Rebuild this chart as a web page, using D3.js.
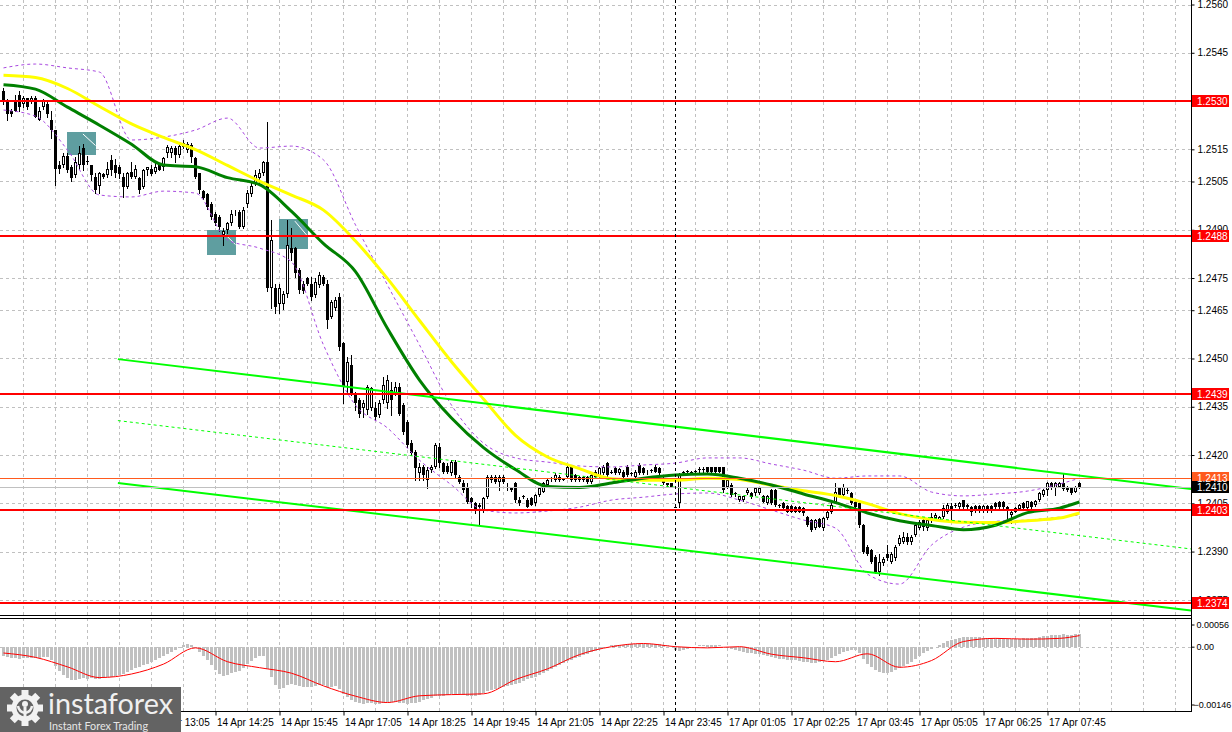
<!DOCTYPE html>
<html>
<head>
<meta charset="utf-8">
<script src="https://cdn.jsdelivr.net/npm/d3@7"></script>
<style>
  body { margin: 0; background: #fff; }
  svg { display: block; }
</style>
</head>
<body>
<script>
/* DATA */
// GBP/USD M5 bars, 14 Apr 10:00 ... 17 Apr 08:25 : [open, high, low, close]
var candles = [
 [1.25330,1.25340,1.25290,1.25300],[1.25300,1.25305,1.25240,1.25260],[1.25270,1.25275,1.25255,1.25260],[1.25300,1.25320,1.25270,1.25270],[1.25320,1.25330,1.25270,1.25280],
 [1.25290,1.25315,1.25280,1.25310],[1.25310,1.25310,1.25275,1.25280],[1.25300,1.25315,1.25295,1.25310],[1.25310,1.25315,1.25250,1.25250],[1.25240,1.25280,1.25240,1.25270],
 [1.25280,1.25305,1.25275,1.25300],[1.25290,1.25300,1.25250,1.25260],[1.25240,1.25270,1.25185,1.25210],[1.25210,1.25210,1.25040,1.25090],[1.25100,1.25115,1.25075,1.25090],
 [1.25100,1.25140,1.25095,1.25130],[1.25130,1.25140,1.25080,1.25085],[1.25095,1.25100,1.25050,1.25060],[1.25070,1.25125,1.25065,1.25110],[1.25100,1.25160,1.25090,1.25140],
 [1.25155,1.25168,1.25086,1.25100],[1.25115,1.25130,1.25105,1.25110],[1.25100,1.25100,1.25055,1.25070],[1.25065,1.25075,1.25013,1.25025],[1.25035,1.25080,1.25013,1.25075],
 [1.25072,1.25075,1.25060,1.25063],[1.25070,1.25110,1.25065,1.25090],[1.25117,1.25132,1.25070,1.25086],[1.25100,1.25120,1.25065,1.25075],[1.25095,1.25100,1.25060,1.25073],
 [1.25065,1.25075,1.25003,1.25034],[1.25034,1.25080,1.25029,1.25075],[1.25080,1.25112,1.25060,1.25063],[1.25063,1.25100,1.25060,1.25090],[1.25060,1.25065,1.25013,1.25023],
 [1.25034,1.25090,1.25029,1.25086],[1.25086,1.25095,1.25070,1.25095],[1.25090,1.25100,1.25070,1.25073],[1.25080,1.25112,1.25075,1.25096],[1.25100,1.25105,1.25085,1.25086],
 [1.25096,1.25127,1.25086,1.25122],[1.25137,1.25163,1.25127,1.25156],[1.25137,1.25160,1.25127,1.25153],[1.25153,1.25160,1.25112,1.25132],[1.25132,1.25168,1.25127,1.25160],
 [1.25171,1.25179,1.25153,1.25158],[1.25148,1.25174,1.25143,1.25166],[1.25163,1.25170,1.25112,1.25127],[1.25122,1.25127,1.25060,1.25063],[1.25075,1.25075,1.25013,1.25023],
 [1.25020,1.25025,1.24995,1.25000],[1.25010,1.25015,1.24965,1.24970],[1.24980,1.24985,1.24935,1.24940],[1.24950,1.24955,1.24915,1.24920],[1.24940,1.24945,1.24895,1.24910],
 [1.24885,1.24905,1.24852,1.24895],[1.24900,1.24925,1.24890,1.24920],[1.24920,1.24960,1.24915,1.24950],[1.24950,1.24960,1.24945,1.24952],[1.24955,1.24960,1.24905,1.24910],
 [1.24910,1.24970,1.24905,1.24960],[1.24980,1.25025,1.24970,1.25015],[1.25010,1.25045,1.25005,1.25035],[1.25045,1.25086,1.25040,1.25070],[1.25060,1.25090,1.25045,1.25075],
 [1.25075,1.25115,1.25070,1.25110],[1.25110,1.25236,1.24710,1.24718],[1.24718,1.24930,1.24656,1.24868],[1.24720,1.24730,1.24640,1.24660],[1.24670,1.24730,1.24640,1.24720],
 [1.24670,1.24710,1.24655,1.24700],[1.24700,1.24930,1.24692,1.24852],[1.24842,1.24904,1.24806,1.24827],[1.24842,1.24845,1.24754,1.24765],[1.24775,1.24780,1.24705,1.24713],
 [1.24733,1.24740,1.24705,1.24711],[1.24749,1.24754,1.24728,1.24733],[1.24733,1.24754,1.24682,1.24692],[1.24697,1.24749,1.24692,1.24739],[1.24728,1.24770,1.24723,1.24759],
 [1.24754,1.24760,1.24728,1.24733],[1.24733,1.24744,1.24594,1.24620],[1.24630,1.24682,1.24625,1.24676],[1.24656,1.24692,1.24651,1.24682],[1.24692,1.24702,1.24526,1.24537],
 [1.24547,1.24552,1.24361,1.24412],[1.24428,1.24505,1.24392,1.24490],[1.24480,1.24511,1.24386,1.24392],[1.24392,1.24397,1.24340,1.24361],[1.24371,1.24376,1.24319,1.24329],
 [1.24345,1.24371,1.24319,1.24361],[1.24340,1.24417,1.24329,1.24412],[1.24345,1.24412,1.24340,1.24407],[1.24345,1.24366,1.24309,1.24319],[1.24324,1.24371,1.24319,1.24361],
 [1.24371,1.24443,1.24361,1.24417],[1.24361,1.24448,1.24345,1.24433],[1.24402,1.24428,1.24324,1.24371],[1.24392,1.24428,1.24386,1.24412],[1.24412,1.24423,1.24324,1.24329],
 [1.24355,1.24361,1.24265,1.24273],[1.24304,1.24310,1.24226,1.24231],[1.24236,1.24247,1.24200,1.24205],[1.24210,1.24216,1.24122,1.24159],[1.24143,1.24174,1.24122,1.24164],
 [1.24164,1.24169,1.24122,1.24138],[1.24122,1.24164,1.24096,1.24153],[1.24153,1.24169,1.24148,1.24164],[1.24164,1.24236,1.24159,1.24231],[1.24226,1.24236,1.24164,1.24174],
 [1.24174,1.24179,1.24143,1.24148],[1.24166,1.24174,1.24143,1.24148],[1.24143,1.24184,1.24138,1.24179],[1.24179,1.24184,1.24133,1.24138],[1.24133,1.24138,1.24112,1.24117],
 [1.24112,1.24122,1.24086,1.24091],[1.24102,1.24112,1.24050,1.24055],[1.24065,1.24070,1.24039,1.24055],[1.24050,1.24055,1.24019,1.24029],[1.24045,1.24050,1.23982,1.24039],
 [1.24029,1.24070,1.24024,1.24065],[1.24070,1.24138,1.24065,1.24133],[1.24122,1.24138,1.24117,1.24133],[1.24133,1.24138,1.24112,1.24117],[1.24117,1.24138,1.24091,1.24133],
 [1.24133,1.24138,1.24112,1.24117],[1.24102,1.24112,1.24091,1.24100],[1.24096,1.24100,1.24088,1.24091],[1.24112,1.24117,1.24055,1.24060],[1.24060,1.24070,1.24045,1.24050],
 [1.24074,1.24076,1.24068,1.24070],[1.24060,1.24065,1.24040,1.24040],[1.24065,1.24070,1.24045,1.24045],[1.24050,1.24080,1.24045,1.24076],[1.24076,1.24102,1.24074,1.24096],
 [1.24086,1.24117,1.24084,1.24112],[1.24107,1.24127,1.24104,1.24122],[1.24122,1.24133,1.24120,1.24126],[1.24122,1.24143,1.24120,1.24138],[1.24133,1.24138,1.24120,1.24122],
 [1.24127,1.24130,1.24122,1.24126],[1.24133,1.24169,1.24130,1.24164],[1.24164,1.24166,1.24120,1.24122],[1.24138,1.24140,1.24120,1.24122],[1.24133,1.24136,1.24120,1.24122],
 [1.24133,1.24136,1.24120,1.24122],[1.24133,1.24136,1.24114,1.24117],[1.24117,1.24143,1.24114,1.24138],[1.24148,1.24153,1.24130,1.24133],[1.24133,1.24164,1.24130,1.24159],
 [1.24143,1.24169,1.24140,1.24164],[1.24174,1.24179,1.24133,1.24138],[1.24148,1.24153,1.24143,1.24146],[1.24159,1.24164,1.24140,1.24143],[1.24143,1.24161,1.24140,1.24156],
 [1.24148,1.24153,1.24130,1.24133],[1.24164,1.24169,1.24135,1.24138],[1.24143,1.24148,1.24138,1.24141],[1.24133,1.24153,1.24130,1.24148],[1.24169,1.24174,1.24140,1.24143],
 [1.24159,1.24164,1.24140,1.24143],[1.24143,1.24153,1.24140,1.24148],[1.24153,1.24156,1.24148,1.24151],[1.24164,1.24169,1.24146,1.24148],[1.24159,1.24164,1.24140,1.24143],
 [1.24127,1.24133,1.24110,1.24112],[1.24107,1.24114,1.24102,1.24112],[1.24112,1.24114,1.24100,1.24102],[1.24040,1.24042,1.24037,1.24039],[1.24050,1.24143,1.24040,1.24138],
 [1.24148,1.24150,1.24145,1.24146],[1.24150,1.24153,1.24143,1.24148],[1.24148,1.24150,1.24145,1.24146],[1.24150,1.24153,1.24148,1.24151],[1.24158,1.24164,1.24148,1.24156],
 [1.24158,1.24164,1.24148,1.24156],[1.24164,1.24164,1.24148,1.24148],[1.24164,1.24164,1.24148,1.24148],[1.24164,1.24164,1.24148,1.24148],[1.24164,1.24164,1.24148,1.24148],
 [1.24162,1.24164,1.24086,1.24091],[1.24102,1.24127,1.24096,1.24122],[1.24107,1.24112,1.24072,1.24076],[1.24081,1.24084,1.24074,1.24078],[1.24060,1.24074,1.24058,1.24072],
 [1.24060,1.24074,1.24058,1.24072],[1.24081,1.24099,1.24080,1.24091],[1.24081,1.24084,1.24068,1.24070],[1.24081,1.24102,1.24076,1.24096],[1.24081,1.24100,1.24078,1.24096],
 [1.24072,1.24076,1.24053,1.24055],[1.24050,1.24076,1.24048,1.24072],[1.24091,1.24094,1.24048,1.24050],[1.24091,1.24094,1.24042,1.24045],[1.24045,1.24048,1.24039,1.24042],
 [1.24050,1.24053,1.24032,1.24034],[1.24042,1.24045,1.24022,1.24024],[1.24042,1.24045,1.24022,1.24024],[1.24039,1.24042,1.24022,1.24024],[1.24039,1.24042,1.24022,1.24024],
 [1.24034,1.24039,1.24013,1.24019],[1.24008,1.24011,1.23980,1.23982],[1.23998,1.24001,1.23964,1.23967],[1.23972,1.24000,1.23970,1.23998],[1.24001,1.24003,1.23975,1.23977],
 [1.23972,1.24008,1.23967,1.24003],[1.24003,1.24027,1.24000,1.24024],[1.24024,1.24050,1.24019,1.24045],[1.24055,1.24112,1.24050,1.24086],[1.24096,1.24102,1.24072,1.24076],
 [1.24076,1.24110,1.24072,1.24102],[1.24091,1.24099,1.24083,1.24090],[1.24081,1.24084,1.24048,1.24050],[1.24055,1.24058,1.24036,1.24039],[1.24050,1.24053,1.23977,1.23982],
 [1.23982,1.23985,1.23897,1.23900],[1.23915,1.23920,1.23889,1.23894],[1.23905,1.23908,1.23865,1.23868],[1.23884,1.23889,1.23832,1.23837],[1.23837,1.23894,1.23827,1.23868],
 [1.23863,1.23884,1.23858,1.23878],[1.23894,1.23920,1.23874,1.23879],[1.23868,1.23900,1.23865,1.23894],[1.23879,1.23920,1.23874,1.23915],[1.23925,1.23952,1.23920,1.23941],
 [1.23930,1.23962,1.23927,1.23946],[1.23946,1.23957,1.23925,1.23931],[1.23931,1.23952,1.23925,1.23946],[1.23952,1.23988,1.23947,1.23982],[1.23972,1.23998,1.23970,1.23993],
 [1.23998,1.24003,1.23967,1.23977],[1.23972,1.24003,1.23967,1.23998],[1.23998,1.24019,1.23993,1.24008],[1.24005,1.24019,1.24001,1.24013],[1.23998,1.24010,1.23996,1.24008],
 [1.24008,1.24045,1.24003,1.24034],[1.24024,1.24052,1.24019,1.24045],[1.24042,1.24050,1.23998,1.24027],[1.24046,1.24050,1.24040,1.24044],[1.24039,1.24055,1.24036,1.24052],
 [1.24060,1.24060,1.24034,1.24039],[1.24045,1.24048,1.24036,1.24039],[1.24039,1.24042,1.24013,1.24024],[1.24042,1.24045,1.24024,1.24027],[1.24042,1.24045,1.24024,1.24027],
 [1.24027,1.24045,1.24024,1.24042],[1.24042,1.24045,1.24024,1.24027],[1.24042,1.24045,1.24024,1.24027],[1.24052,1.24055,1.24036,1.24039],[1.24055,1.24058,1.24036,1.24039],
 [1.24055,1.24058,1.24036,1.24039],[1.24039,1.24042,1.24003,1.24029],[1.24013,1.24027,1.23988,1.24024],[1.24024,1.24037,1.24022,1.24034],[1.24032,1.24048,1.24030,1.24045],
 [1.24052,1.24055,1.24032,1.24034],[1.24036,1.24058,1.24034,1.24056],[1.24055,1.24058,1.24036,1.24039],[1.24045,1.24060,1.24043,1.24057],[1.24060,1.24084,1.24058,1.24081],
 [1.24076,1.24094,1.24074,1.24091],[1.24091,1.24117,1.24076,1.24112],[1.24112,1.24115,1.24094,1.24096],[1.24096,1.24117,1.24076,1.24112],[1.24102,1.24115,1.24100,1.24112],
 [1.24114,1.24141,1.24091,1.24094],[1.24102,1.24105,1.24089,1.24091],[1.24099,1.24102,1.24079,1.24081],[1.24086,1.24105,1.24084,1.24102],[1.24112,1.24115,1.24098,1.24100]
];

// indicator readings, taken every 8th bar
var maBars    = [0,8,16,24,32,40,48,56,64,72,80,88,96,104,112,120,128,136,144,152,160,168,176,184,192,200,208,216,224,232,240,248,256,264,269];
var slowMA    = [1.25380,1.25373,1.25339,1.25283,1.25229,1.25187,1.25149,1.25100,1.25051,1.25008,1.24961,1.24865,1.24748,1.24618,1.24490,1.24374,1.24261,1.24194,1.24158,1.24126,1.24122,1.24122,1.24128,1.24124,1.24106,1.24089,1.24074,1.24049,1.24018,1.24000,1.23991,1.23990,1.23996,1.24004,1.24020];
var fastMA    = [1.25351,1.25337,1.25281,1.25225,1.25166,1.25101,1.25096,1.25062,1.25040,1.24957,1.24857,1.24770,1.24593,1.24433,1.24315,1.24223,1.24155,1.24102,1.24099,1.24113,1.24128,1.24138,1.24141,1.24128,1.24107,1.24079,1.24052,1.24020,1.23996,1.23981,1.23968,1.23982,1.24021,1.24035,1.24054];
var bandUpper = [1.25403,1.25415,1.25403,1.25390,1.25179,1.25188,1.25210,1.25247,1.25154,1.25160,1.25117,1.24915,1.24728,1.24542,1.24355,1.24237,1.24191,1.24178,1.24166,1.24163,1.24169,1.24175,1.24191,1.24191,1.24172,1.24153,1.24128,1.24135,1.24135,1.24085,1.24073,1.24079,1.24088,1.24110,1.24128];
var bandLower = [1.25272,1.25253,1.25148,1.25008,1.25002,1.25020,1.25014,1.24868,1.24843,1.24800,1.24542,1.24355,1.24284,1.24184,1.24107,1.24029,1.24020,1.24026,1.24038,1.24060,1.24069,1.24079,1.24082,1.24060,1.24029,1.23998,1.23973,1.23830,1.23799,1.23920,1.23976,1.23994,1.23998,1.24007,1.24014];

// MACD, in units of 0.00001
var macdHist = [
 -23,-25,-28,-28,-30,-28,-28,-28,-28,-28, -25,-25,-33,-48,-61,-71,-78,-83,-83,-81,
 -78,-81,-78,-81,-81,-78,-76,-76,-73,-71, -68,-63,-58,-53,-51,-45,-43,-38,-33,-28,
 -23,-18,-13,-8,-3,5,8,5,-3,-13, -23,-33,-45,-58,-68,-73,-71,-66,-63,-61,
 -53,-43,-35,-28,-23,-23,-56,-76,-96,-106, -104,-96,-93,-96,-98,-101,-101,-101,-98,-96,
 -96,-101,-101,-98,-106,-119,-126,-134,-139,-141, -144,-141,-141,-144,-144,-141,-139,-139,-139,-141,
 -141,-144,-141,-141,-139,-134,-131,-129,-124,-124, -124,-121,-119,-119,-119,-121,-124,-124,-124,-121,
 -116,-111,-109,-106,-104,-101,-98,-96,-93,-91, -86,-81,-78,-76,-71,-66,-61,-56,-51,-45,
 -40,-35,-33,-28,-25,-20,-18,-13,-10,-5, -3,0,3,5,5,5,8,8,8,8,
 8,8,8,8,8,5,3,0,-8,-10, -8,-5,-3,0,3,3,5,5,5,3,
 0,-3,-5,-8,-10,-13,-15,-15,-18,-18, -20,-23,-25,-28,-30,-30,-33,-33,-33,-35,
 -38,-38,-40,-40,-38,-35,-33,-28,-23,-18, -13,-10,-8,-8,-15,-30,-43,-51,-58,-63,
 -66,-66,-63,-58,-53,-48,-43,-38,-30,-23, -15,-10,-5,0,5,10,15,18,20,23,
 25,25,25,25,25,23,23,23,23,23, 20,20,20,20,20,23,23,23,23,25,
 28,28,30,30,30,33,30,30,33,33
];
var macdSignal = [-16,-27,-51,-78,-69,-44,-3,-38,-53,-67,-99,-125,-141,-124,-121,-119,-83,-56,-20,0,8,0,-3,0,-19,-28,-38,-18,-52,-35,13,21,19,21,28];
var macdTicks = [56, 0, -146];

// drawn objects
var redLevels = [1.2530, 1.2488, 1.2439, 1.2403, 1.2374];
var askPrice = 1.2413, bidPrice = 1.2410;
var channelBars  = [28.6, 297];
var channelUpper = [1.24498, 1.24094];
var channelMid   = [1.24307, 1.23908];
var channelLower = [1.24113, 1.23717];
var boxFrom   = [16, 51, 69];
var boxTo     = [23, 58, 76];
var boxTop    = [1.25204, 1.24899, 1.24933];
var boxBottom = [1.25132, 1.24821, 1.24840];

// axes
var priceTicks = [1.2560,1.2545,1.2530,1.2515,1.2505,1.2490,1.2475,1.2465,1.2450,1.2435,1.2420,1.2405,1.2390,1.2375];
var timeBars   = [37,53,69,85,101,117,133,149,165,181,197,213,229,245,261];
var timeLabels = ["14 Apr 13:05","14 Apr 14:25","14 Apr 15:45","14 Apr 17:05","14 Apr 18:25",
                  "14 Apr 19:45","14 Apr 21:05","14 Apr 22:25","14 Apr 23:45","17 Apr 01:05","17 Apr 02:25","17 Apr 03:45",
                  "17 Apr 05:05","17 Apr 06:25","17 Apr 07:45"];
var sessionBreak = 168; // first bar of 17 Apr

/* SETUP */
var width = 1232, height = 732;
var plotRight = 1191;
var mainBottom = 615, macdTop = 619, axisY = 711.5;
var font = "'Liberation Sans', Arial, sans-serif";

var svg = d3.select("body").append("svg")
  .attr("width", width)
  .attr("height", height)
  .style("font-family", font);

var x = d3.scaleLinear().domain([0, 269]).range([3.5, 1079.5]);       // bar index -> centre pixel
var y = d3.scaleLinear().domain([1.23706, 1.25614]).range([614, 0]);  // price
var yM = d3.scaleLinear().domain([-146, 56]).range([704.5, 624.5]);   // MACD

var defs = svg.append("defs");
defs.append("clipPath").attr("id", "clipMain").append("rect")
  .attr("x", 0).attr("y", 0).attr("width", plotRight).attr("height", mainBottom);
defs.append("clipPath").attr("id", "clipMacd").append("rect")
  .attr("x", 0).attr("y", macdTop).attr("width", plotRight).attr("height", axisY - macdTop);

function px(v) { return Math.round(v) + 0.5; }

/* GRID */
var grid = svg.append("g")
  .attr("stroke", "#c0c0c0")
  .attr("stroke-dasharray", "3,3")
  .attr("shape-rendering", "crispEdges");

grid.selectAll("line.v")
  .data(d3.range(5, 297, 8))
  .join("line")
  .attr("x1", d => x(d)).attr("x2", d => x(d))
  .attr("y1", 0).attr("y2", axisY);

grid.selectAll("line.h")
  .data(priceTicks)
  .join("line")
  .attr("x1", 0).attr("x2", plotRight)
  .attr("y1", d => px(y(d))).attr("y2", d => px(y(d)));

grid.append("line")
  .attr("x1", 0).attr("x2", plotRight)
  .attr("y1", px(yM(0))).attr("y2", px(yM(0)));

/* MAIN PANEL */
var main = svg.append("g").attr("clip-path", "url(#clipMain)");

// signal boxes sit behind the bars
main.selectAll("rect.box")
  .data(boxFrom)
  .join("rect")
  .attr("x", (d, k) => x(d) - 0.5)
  .attr("y", (d, k) => Math.round(y(boxTop[k])))
  .attr("width", (d, k) => x(boxTo[k]) - x(d) + 1)
  .attr("height", (d, k) => Math.round(y(boxBottom[k])) - Math.round(y(boxTop[k])))
  .attr("fill", "#5f9ea0");

main.selectAll("line.boxmark")
  .data(boxFrom)
  .join("line")
  .attr("x1", (d, k) => x(d) + (x(boxTo[k]) - x(d)) * 0.55)
  .attr("y1", (d, k) => y(boxTop[k]) + 2)
  .attr("x2", (d, k) => x(boxTo[k]))
  .attr("y2", (d, k) => (y(boxTop[k]) + y(boxBottom[k])) / 2 + 2)
  .attr("stroke", "#ffffff")
  .attr("stroke-width", 1);

// candles
var bars = main.append("g").attr("shape-rendering", "crispEdges");

bars.selectAll("line")
  .data(candles)
  .join("line")
  .attr("x1", (d, i) => x(i)).attr("x2", (d, i) => x(i))
  .attr("y1", d => Math.round(y(d[1])))
  .attr("y2", d => Math.round(y(d[2])) + 1)
  .attr("stroke", "#000");

bars.selectAll("rect")
  .data(candles)
  .join("rect")
  .each(function(d, i) {
    var yo = Math.round(y(d[0])), yc = Math.round(y(d[3]));
    var r = d3.select(this);
    if (yc < yo) {          // up bar: hollow
      r.attr("x", x(i) - 1).attr("width", 2)
       .attr("y", yc + 0.5).attr("height", Math.max(yo - yc - 1, 0))
       .attr("fill", "#fff").attr("stroke", "#000");
    } else {                // down bar or doji: solid
      r.attr("x", x(i) - 1.5).attr("width", 3)
       .attr("y", yo).attr("height", Math.max(yc - yo, 1))
       .attr("fill", "#000");
    }
  });

// bollinger-style envelope
var band = d3.line()
  .x(d => x(d[0]))
  .y(d => y(d[1]))
  .curve(d3.curveMonotoneX);

[bandUpper, bandLower].forEach(function(arr) {
  main.append("path")
    .datum(d3.zip(maBars, arr))
    .attr("d", band)
    .attr("fill", "none")
    .attr("stroke", "#a848e0")
    .attr("stroke-width", 1)
    .attr("stroke-dasharray", "3,3");
});

main.append("path")
  .datum(d3.zip(maBars, slowMA))
  .attr("d", band)
  .attr("fill", "none")
  .attr("stroke", "#ffff00")
  .attr("stroke-width", 3);

main.append("path")
  .datum(d3.zip(maBars, fastMA))
  .attr("d", band)
  .attr("fill", "none")
  .attr("stroke", "#008000")
  .attr("stroke-width", 3);

// channel
var straight = d3.line().x(d => x(d[0])).y(d => y(d[1]));
main.append("path").datum(d3.zip(channelBars, channelUpper)).attr("d", straight)
  .attr("stroke", "#00ff00").attr("stroke-width", 2).attr("fill", "none");
main.append("path").datum(d3.zip(channelBars, channelLower)).attr("d", straight)
  .attr("stroke", "#00ff00").attr("stroke-width", 2).attr("fill", "none");
main.append("path").datum(d3.zip(channelBars, channelMid)).attr("d", straight)
  .attr("stroke", "#00ff00").attr("stroke-width", 1).attr("stroke-dasharray", "3,3").attr("fill", "none");

// levels
var levels = main.append("g").attr("shape-rendering", "crispEdges");
levels.append("line")
  .attr("x1", 0).attr("x2", plotRight)
  .attr("y1", px(y(bidPrice))).attr("y2", px(y(bidPrice)))
  .attr("stroke", "#c0c0c0");
levels.append("line")
  .attr("x1", 0).attr("x2", plotRight)
  .attr("y1", px(y(askPrice))).attr("y2", px(y(askPrice)))
  .attr("stroke", "#ff5a1e");
levels.selectAll("line.red")
  .data(redLevels)
  .join("line")
  .attr("x1", 0).attr("x2", plotRight)
  .attr("y1", d => Math.round(y(d))).attr("y2", d => Math.round(y(d)))
  .attr("stroke", "#ff0000")
  .attr("stroke-width", 2);

/* MACD PANEL */
var macd = svg.append("g").attr("clip-path", "url(#clipMacd)");

macd.append("g").attr("shape-rendering", "crispEdges")
  .selectAll("rect")
  .data(macdHist)
  .join("rect")
  .attr("x", (d, i) => x(i) - 1.5)
  .attr("width", 3)
  .attr("y", d => Math.round(Math.min(yM(d), yM(0))))
  .attr("height", d => Math.max(Math.round(Math.abs(yM(d) - yM(0))), d === 0 ? 0 : 1))
  .attr("fill", "#c0c0c0");

macd.append("path")
  .datum(d3.zip(maBars, macdSignal))
  .attr("d", d3.line().x(d => x(d[0])).y(d => yM(d[1])).curve(d3.curveMonotoneX))
  .attr("fill", "none")
  .attr("stroke", "#ff0000")
  .attr("stroke-width", 1);

/* FRAME */
var frame = svg.append("g").attr("stroke", "#000").attr("shape-rendering", "crispEdges");
frame.append("line").attr("x1", 0).attr("x2", plotRight + 0.5).attr("y1", mainBottom + 0.5).attr("y2", mainBottom + 0.5);
frame.append("line").attr("x1", 0).attr("x2", plotRight + 0.5).attr("y1", macdTop - 0.5).attr("y2", macdTop - 0.5);
frame.append("line").attr("x1", 0).attr("x2", plotRight + 0.5).attr("y1", axisY).attr("y2", axisY);
frame.append("line").attr("x1", plotRight + 0.5).attr("x2", plotRight + 0.5).attr("y1", 0).attr("y2", axisY);

// start-of-day separator
svg.append("line")
  .attr("x1", x(sessionBreak)).attr("x2", x(sessionBreak))
  .attr("y1", 0).attr("y2", axisY)
  .attr("stroke", "#000")
  .attr("stroke-dasharray", "3,3")
  .attr("shape-rendering", "crispEdges");

/* AXES */
var yAxis = d3.axisRight(y)
  .tickValues(priceTicks)
  .tickFormat(d3.format(".4f"))
  .tickSize(3)
  .tickPadding(3);

svg.append("g")
  .attr("transform", "translate(" + (plotRight + 0.5) + ",0)")
  .call(yAxis)
  .call(g => g.select(".domain").remove())
  .attr("font-family", font)
  .attr("font-size", 10)
  .call(g => g.selectAll("text").attr("fill", "#000"));

var mAxis = d3.axisRight(yM)
  .tickValues(macdTicks)
  .tickFormat(d => d === 0 ? "0.00" : d3.format(".5f")(d / 100000))
  .tickSize(3)
  .tickPadding(2);

svg.append("g")
  .attr("transform", "translate(" + (plotRight + 0.5) + ",0)")
  .call(mAxis)
  .call(g => g.select(".domain").remove())
  .attr("font-family", font)
  .attr("font-size", 9)
  .call(g => g.selectAll("text").attr("x", d => d < 0 ? 2 : 5));

var xAxis = d3.axisBottom(x)
  .tickValues(timeBars)
  .tickFormat((d, k) => timeLabels[k])
  .tickSize(4)
  .tickPadding(3);

svg.append("g")
  .attr("transform", "translate(0," + axisY + ")")
  .call(xAxis)
  .call(g => g.select(".domain").remove())
  .attr("font-family", font)
  .attr("font-size", 10)
  .call(g => g.selectAll("text").attr("text-anchor", "start").attr("x", 1));

// price labels on the scale
var tags = [];
redLevels.forEach(p => tags.push({ p: p, fill: "#ff0000" }));
tags.push({ p: askPrice, fill: "#ff5a1e" });
tags.push({ p: bidPrice, fill: "#000000" });

var tagG = svg.append("g").attr("font-family", font).attr("font-size", 10);
tagG.selectAll("rect")
  .data(tags)
  .join("rect")
  .attr("x", plotRight + 1)
  .attr("y", d => Math.round(y(d.p)) - 6)
  .attr("width", 37)
  .attr("height", 12)
  .attr("fill", d => d.fill);
tagG.selectAll("text")
  .data(tags)
  .join("text")
  .attr("x", plotRight + 6)
  .attr("y", d => Math.round(y(d.p)) + 4)
  .attr("fill", "#fff")
  .text(d => d3.format(".4f")(d.p));

/* LOGO */
var logo = svg.append("g");
logo.append("rect")
  .attr("x", 0).attr("y", 687).attr("width", 181).attr("height", 45)
  .attr("fill", "#636363");

var gear = logo.append("g").attr("transform", "translate(25,708)").attr("fill", "#f2f2f2");
gear.selectAll("rect")
  .data(d3.range(8))
  .join("rect")
  .attr("x", -3.5).attr("y", -18).attr("width", 7).attr("height", 7)
  .attr("transform", d => "rotate(" + (d * 45) + ")");
gear.append("circle").attr("r", 13.5);
gear.append("circle").attr("r", 8.5).attr("fill", "#636363");
gear.append("circle").attr("cx", 0).attr("cy", -4).attr("r", 3);
gear.append("rect").attr("x", -1.5).attr("y", -1).attr("width", 3).attr("height", 14);
gear.append("path")
  .attr("d", "M-7,-2 Q-6,4 0,5 Q6,4 7,-2")
  .attr("fill", "none").attr("stroke", "#f2f2f2").attr("stroke-width", 2.5);

logo.append("text")
  .attr("x", 48).attr("y", 714)
  .attr("font-family", "Lato, 'Open Sans', sans-serif")
  .attr("font-size", 29)
  .attr("textLength", 125)
  .attr("lengthAdjust", "spacingAndGlyphs")
  .attr("fill", "#f0f0f0")
  .text("instaforex");
logo.append("text")
  .attr("x", 49).attr("y", 730)
  .attr("font-family", "Lato, 'Open Sans', sans-serif")
  .attr("font-size", 11)
  .attr("textLength", 99)
  .attr("lengthAdjust", "spacingAndGlyphs")
  .attr("fill", "#e6e6e6")
  .text("Instant Forex Trading");
</script>
</body>
</html>
